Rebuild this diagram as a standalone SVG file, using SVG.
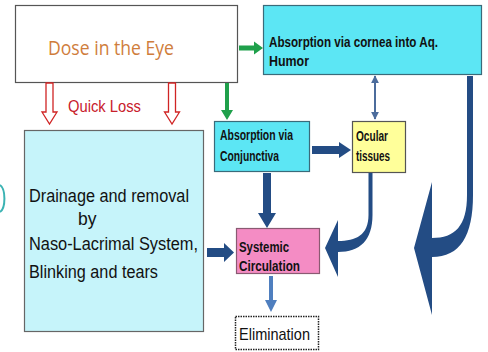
<svg xmlns="http://www.w3.org/2000/svg" width="488" height="352" viewBox="0 0 488 352">
<defs>
<style>
.lbl{font-family:"Liberation Sans",Arial,sans-serif;font-weight:bold;font-size:14px;fill:#111}
.reg{font-family:"Liberation Sans",Arial,sans-serif;fill:#111}
.navy{fill:#234C84}
</style>
<marker id="tri" viewBox="0 0 10 10" refX="9" refY="5" markerWidth="4" markerHeight="4" orient="auto-start-reverse">
<path d="M0,0 L10,5 L0,10 z" fill="#4C6C9C"/>
</marker>
</defs>
<rect width="488" height="352" fill="#fff"/>
<path d="M0,185 A6,14 0 0 1 0,212" fill="none" stroke="#3BB3B3" stroke-width="2"/>

<g id="dose">
<rect x="15.5" y="5.5" width="222" height="77" fill="#fff" stroke="#555" stroke-width="1.2"/>
<text x="111" y="55" text-anchor="middle" font-family="Open Sans,Liberation Sans,sans-serif" font-size="20" fill="#CF7D3C" textLength="126" lengthAdjust="spacingAndGlyphs">Dose in the Eye</text>
</g>

<g id="cornea">
<rect x="263.5" y="5.5" width="218" height="69" fill="#5CE6F4" stroke="#3A6B7A" stroke-width="1.2"/>
<text class="lbl" x="269" y="47" textLength="169" lengthAdjust="spacingAndGlyphs">Absorption via cornea into Aq.</text>
<text class="lbl" x="269" y="66" textLength="40" lengthAdjust="spacingAndGlyphs">Humor</text>
</g>

<g id="drainage">
<rect x="24.5" y="130.5" width="179" height="201" fill="#C6F4FA" stroke="#666" stroke-width="1.2"/>
<text class="reg" x="29" y="202" font-size="17.5" textLength="160" lengthAdjust="spacingAndGlyphs">Drainage and removal</text>
<text class="reg" x="78" y="225" font-size="17.5">by</text>
<text class="reg" x="29" y="250" font-size="17.5" textLength="169" lengthAdjust="spacingAndGlyphs">Naso-Lacrimal System,</text>
<text class="reg" x="29" y="278" font-size="17.5" textLength="129" lengthAdjust="spacingAndGlyphs">Blinking and tears</text>
</g>

<g id="conjunctiva">
<rect x="214.5" y="121.5" width="95" height="50" fill="#5CE6F4" stroke="#3A6B7A" stroke-width="1.2"/>
<text class="lbl" x="220" y="140" textLength="73" lengthAdjust="spacingAndGlyphs">Absorption via</text>
<text class="lbl" x="220" y="161" textLength="59" lengthAdjust="spacingAndGlyphs">Conjunctiva</text>
</g>

<g id="ocular">
<rect x="352.5" y="121.5" width="53" height="51" fill="#FFFF9A" stroke="#555" stroke-width="1.2"/>
<text class="lbl" x="356" y="141" textLength="32" lengthAdjust="spacingAndGlyphs">Ocular</text>
<text class="lbl" x="356" y="161" textLength="34" lengthAdjust="spacingAndGlyphs">tissues</text>
</g>

<g id="systemic">
<rect x="236.5" y="228.5" width="83" height="45" fill="#F48CC4" stroke="#8A5A72" stroke-width="1.2"/>
<text class="lbl" x="239" y="252" fill="#3A1A2A" textLength="50" lengthAdjust="spacingAndGlyphs">Systemic</text>
<text class="lbl" x="239" y="271" textLength="61" lengthAdjust="spacingAndGlyphs">Circulation</text>
</g>

<g id="elimination">
<rect x="235.5" y="316.5" width="83" height="33" fill="#fff" stroke="#222" stroke-width="1.5" stroke-dasharray="1.5,1"/>
<text class="reg" x="239" y="340" font-size="17" textLength="71" lengthAdjust="spacingAndGlyphs">Elimination</text>
</g>

<g id="quickloss">
<text x="68" y="112" font-family="Liberation Sans,Arial,sans-serif" font-size="17" fill="#C8202C" textLength="73" lengthAdjust="spacingAndGlyphs">Quick Loss</text>
</g>

<g id="connectors">
<polygon points="46,83 53,83 53,112 57,112 49.5,124 42,112 46,112" fill="#fff" stroke="#D02424" stroke-width="1.3"/>
<polygon points="168.5,83 175.5,83 175.5,112 179.5,112 172,124 164.5,112 168.5,112" fill="#fff" stroke="#D02424" stroke-width="1.3"/>
<polygon points="225,83 229,83 229,110 233,110 227,120 221,110 225,110" fill="#1FA04B"/>
<polygon points="239,45.5 254,45.5 254,41.5 263,48 254,54.5 254,50.5 239,50.5" fill="#1FA04B"/>
<line x1="375" y1="76" x2="375" y2="119" stroke="#4C6C9C" stroke-width="2" marker-start="url(#tri)" marker-end="url(#tri)"/>
<polygon class="navy" points="312,146 339,146 339,142 351,150 339,158 339,154 312,154"/>
<polygon class="navy" points="263,173 271,173 271,213 276,213 267,228 258,213 263,213"/>
<polygon class="navy" points="207,248 224,248 224,243 234,252.5 224,262 224,257 207,257"/>
<polygon points="269,276 273,276 273,300 277,300 271,312 265,300 269,300" fill="#4F7FBF"/>
<path class="navy" d="M368.5,173 L368.5,215 C368.5,235 356,241 338,241 L338,220 L325,248 L338,277 L338,252 C360,252 372.5,240 372.5,215 L372.5,173 Z"/>
<path class="navy" d="M467,76 L467,195 C467,226 455,238 432,238 L432,182 L414,248 L432,315 L432,257 C460,257 473,236 473,195 L473,76 Z"/>
</g>
</svg>
